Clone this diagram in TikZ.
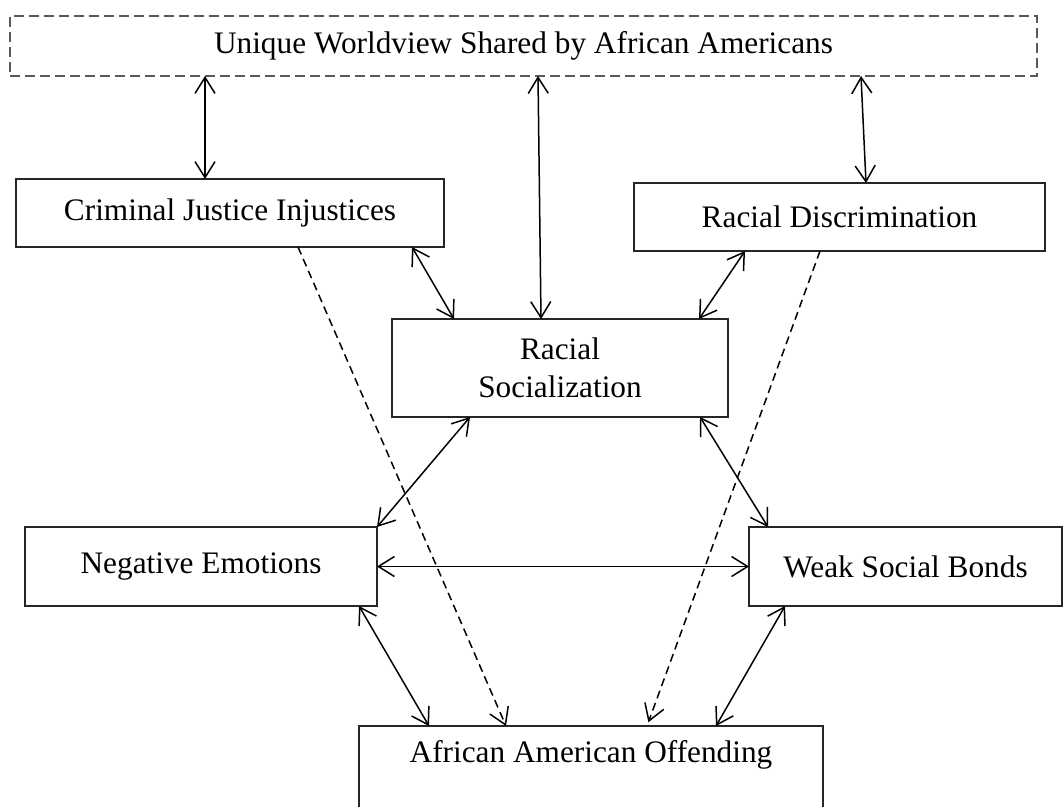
\documentclass[tikz,border=0pt]{standalone}
\usepackage{fontspec}
\setmainfont{Liberation Serif}
\usetikzlibrary{arrows.meta,calc}
\tikzset{
  box/.style={draw=black!85, line width=1.4pt, rectangle, inner sep=0pt, outer sep=0pt, anchor=north west, align=center},
  topbox/.style={box, draw=black!65, dash pattern=on 10pt off 5pt},
  conn/.style={line width=1.5pt, black},
  dbl/.style={conn, {Straight Barb[length=16pt,width=20pt]}-{Straight Barb[length=16pt,width=20pt]}},
  dsh/.style={conn, dash pattern=on 8pt off 5pt, -{Straight Barb[length=16pt,width=20pt]}},
  lbl/.style={inner sep=0pt, outer sep=0pt}
}
\begin{document}
\begin{tikzpicture}[x=1pt,y=-1pt]
\fontsize{31.3}{38}\selectfont
\useasboundingbox (0,0) rectangle (1064,806);
\clip (0,0) rectangle (1064,806);
\node[topbox, minimum width=1027pt, minimum height=60pt] (top) at (10,16) {};
\node[lbl] (toptext) at (523.5,46) {Unique Worldview Shared by African Americans};
\node[box, minimum width=428pt, minimum height=68pt] (crim) at (16,179) {Criminal Justice Injustices};
\node[box, minimum width=411pt, minimum height=68pt] (rd) at (634,183) {Racial Discrimination};
\node[box, minimum width=336pt, minimum height=98pt] (rs) at (392,319) {Racial\\Socialization};
\node[box, minimum width=352pt, minimum height=79pt] (ne) at (25,527) {Negative Emotions};
\node[box, minimum width=313pt, minimum height=79pt] (wsb) at (749,527) {Weak Social Bonds};
\node[box, minimum width=464pt, minimum height=130pt] (aao) at (359,726) {};
\node[lbl] (aaotext) at (591,755) {African American Offending};
% connectors
\draw[dbl] ($(top.south west)+(195,0)$) -- ($(crim.north west)+(189,0)$);
\draw[dbl] ($(top.south west)+(528,0)$) -- ($(rs.north west)+(149,0)$);
\draw[dbl] ($(top.south west)+(851,0)$) -- ($(rd.north west)+(232,0)$);
\draw[dbl] ($(crim.south west)+(396,0)$) -- ($(rs.north west)+(62,0)$);
\draw[dbl] ($(rd.south west)+(111,0)$) -- ($(rs.north west)+(307,0)$);
\draw[dbl] ($(rs.south west)+(78,0)$) -- (ne.north east);
\draw[dbl] ($(rs.south west)+(308,0)$) -- ($(wsb.north west)+(19,0)$);
\draw[dbl] (ne.east) -- (wsb.west);
\draw[dbl] ($(ne.south west)+(334,0)$) -- ($(aao.north west)+(70,0)$);
\draw[dbl] ($(wsb.south west)+(36,0)$) -- ($(aao.north west)+(357,0)$);
\draw[dsh] ($(crim.south west)+(282,0)$) -- ($(aao.north west)+(147,0)$);
\draw[dsh, shorten >=4pt] ($(rd.south west)+(186,0)$) -- ($(aao.north west)+(288,0)$);
\end{tikzpicture}
\end{document}
